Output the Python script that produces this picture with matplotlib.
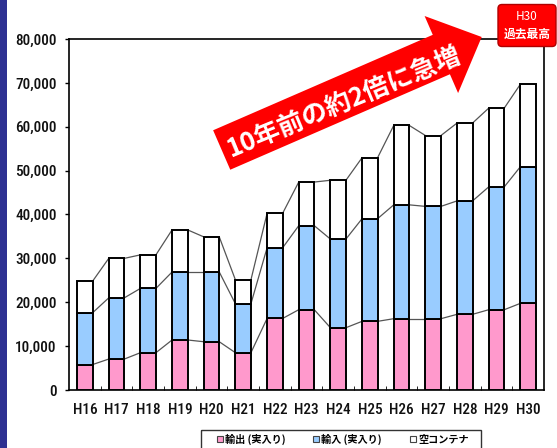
import numpy as np
import matplotlib.pyplot as plt
from matplotlib.patches import Polygon, FancyBboxPatch
from matplotlib.lines import Line2D

plt.rcParams['font.family'] = ['Roboto Condensed', 'DejaVu Sans']

# data (TEU)
years = ["H16", "H17", "H18", "H19", "H20", "H21", "H22", "H23",
         "H24", "H25", "H26", "H27", "H28", "H29", "H30"]
export_full = [5800, 7050, 8500, 11400, 11000, 8500, 16300, 18300,
               14200, 15650, 16250, 16250, 17250, 18300, 19750]
import_full = [11800, 13950, 14650, 15500, 15900, 11150, 16100, 19150,
               20200, 23400, 25950, 25600, 25850, 28000, 31150]
empty = [7200, 9000, 7650, 9600, 8000, 5450, 7850, 9950,
         13400, 13900, 18100, 16150, 17750, 17950, 18800]
legend_labels = ["輸出 (実入り)", "輸入 (実入り)", "空コンテナ"]
colors = ["#FF99CC", "#99CCFF", "#FFFFFF"]

fig = plt.figure(figsize=(5.57, 4.48), dpi=100)
ax = fig.add_axes([69/557, 1-390/448, (544-69)/557, (390-39)/448])

x = np.arange(len(years))
w = 0.49
series = [np.array(export_full), np.array(import_full), np.array(empty)]
bottom = np.zeros(len(years))
for vals, c in zip(series, colors):
    ax.bar(x, vals, w, bottom=bottom, color=c, edgecolor="black", linewidth=1.4, zorder=3)
    bottom = bottom + vals
    # connecting lines between bars
    for i in range(len(years) - 1):
        ax.plot([x[i] + w/2, x[i+1] - w/2], [bottom[i], bottom[i+1]],
                color="#555555", lw=0.9, zorder=2)

ax.set_xlim(-0.5, len(years) - 0.5)
ax.set_ylim(0, 80000)
ax.set_yticks(np.arange(0, 80001, 10000))
ax.set_yticklabels([f"{v:,}" for v in range(0, 80001, 10000)], fontsize=11,
                   color="#111111", fontweight="medium")
ax.tick_params(axis="y", length=3, width=1, pad=6)
ax.set_xticks(x)
ax.set_xticklabels(years, fontsize=11, color="#111111", fontweight="medium")
ax.tick_params(axis="x", length=0, pad=9)
ax.set_xticks(np.arange(0.5, len(years) - 1, 1), minor=True)
ax.tick_params(axis="x", which="minor", length=3, direction="in")
for s in ax.spines.values():
    s.set_linewidth(1.2)

# overlay in pixel coords for the annotation arrow, box and legend frame
ov = fig.add_axes([0, 0, 1, 1], facecolor="none")
ov.set_xlim(0, 557)
ov.set_ylim(448, 0)
ov.axis("off")

# legend (frame drawn separately, wider than the entries)
handles = [Line2D([], [], marker="s", ls="none", markersize=4.5,
                  markerfacecolor=c, markeredgecolor="#444444", markeredgewidth=0.8)
           for c in colors]
fig.legend(handles, legend_labels, loc="upper center", ncol=3,
           bbox_to_anchor=(343/557, 1-431/448), frameon=False,
           handlelength=0.5, handletextpad=0.25, borderpad=0.25,
           borderaxespad=0, columnspacing=2.8,
           prop={"family": ["Noto Sans CJK JP"], "size": 7.3, "weight": "bold"})
ov.add_patch(plt.Rectangle((201, 430.5), 280, 25, facecolor="none",
                           edgecolor="#333333", lw=1.0))

# left navy stripe
ov.add_patch(plt.Rectangle((0, 0), 7, 448, color="#2E3192", lw=0))

tip = np.array([481.7, 37.0])
tail = np.array([221.7, 150.0])
d = (tip - tail) / np.linalg.norm(tip - tail)
n = np.array([d[1], -d[0]])
half_body = 21.5
half_head = 42
head_len = 44
base = tip - d * head_len
pts = [tail + n*half_body, base + n*half_body, base + n*half_head, tip,
       base - n*half_head, base - n*half_body, tail - n*half_body]
ov.add_patch(Polygon(pts, closed=True, color="#FF0000", lw=0, zorder=5))
ang = np.degrees(np.arctan2(-d[1], d[0]))
ov.text(344, 102, "10年前の約2倍に急増", rotation=ang - 1, rotation_mode="anchor",
        ha="center", va="center", color="white", fontsize=18.5, fontweight="bold",
        family=["Noto Sans CJK JP"], zorder=6)

ov.add_patch(FancyBboxPatch((498, 4.5), 58, 42, boxstyle="round,pad=0,rounding_size=4",
                            facecolor="#FF0000", edgecolor="#B00000", lw=1, zorder=5))
ov.text(527, 17, "H30", ha="center", va="center", color="white", fontsize=8.5,
        family=["Noto Sans CJK JP"], zorder=6)
ov.text(527, 34, "過去最高", ha="center", va="center", color="white", fontsize=8.5,
        fontweight="bold", family=["Noto Sans CJK JP"], zorder=6)

fig.savefig("out.png", dpi=100)
